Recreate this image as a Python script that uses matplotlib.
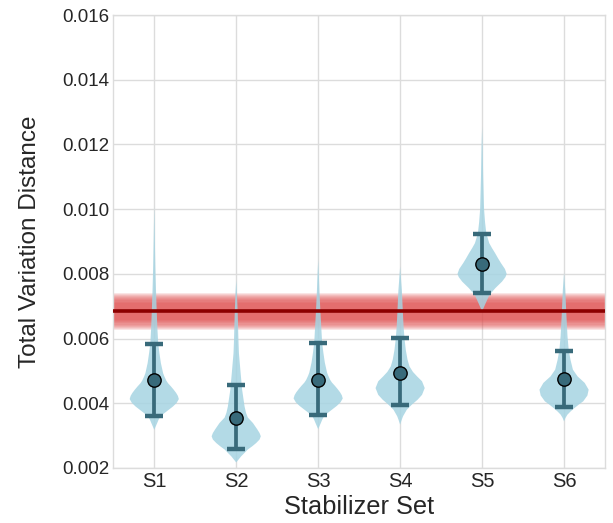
import numpy as np
import matplotlib
matplotlib.use("Agg")
import matplotlib.pyplot as plt

# =========================================================
# DATA
# =========================================================

labels = ["S1", "S2", "S3", "S4", "S5", "S6"]

means = [0.00471, 0.00356, 0.00473, 0.00495, 0.00831, 0.00475]
err_lo = [0.00361, 0.00258, 0.00363, 0.00396, 0.00742, 0.00390]
err_hi = [0.00583, 0.00456, 0.00585, 0.00602, 0.00924, 0.00561]

# reference level with its shaded spread
ref_level = 0.00684
ref_spread = 0.00058

# violin outlines: tvd value and relative half width
s1_y = [0.00318, 0.00339, 0.00349, 0.00360, 0.00370, 0.00380, 0.00390, 0.00401,
        0.00413, 0.00423, 0.00432, 0.00442, 0.00452, 0.00462, 0.00470, 0.00483,
        0.00493, 0.00524, 0.00555, 0.00586, 0.00627, 0.00684, 0.00750, 0.00820,
        0.00900, 0.00960, 0.01010]
s1_w = [0.0, 0.12, 0.175, 0.26, 0.42, 0.59, 0.76, 0.91,
        1.0, 0.96, 0.89, 0.79, 0.68, 0.56, 0.49, 0.41,
        0.36, 0.27, 0.21, 0.16, 0.13, 0.10, 0.07, 0.045,
        0.025, 0.012, 0.0]

s2_y = [0.00217, 0.00236, 0.00246, 0.00257, 0.00267, 0.00277, 0.00288, 0.00298,
        0.00308, 0.00319, 0.00329, 0.00339, 0.00356, 0.00370, 0.00390, 0.00442,
        0.00493, 0.00555, 0.00596, 0.00680, 0.00740, 0.00780]
s2_w = [0.0, 0.20, 0.33, 0.47, 0.65, 0.81, 0.95, 1.0,
        0.95, 0.86, 0.77, 0.68, 0.47, 0.40, 0.34, 0.24,
        0.18, 0.11, 0.09, 0.06, 0.03, 0.0]

s3_y = [0.00320, 0.00341, 0.00351, 0.00362, 0.00372, 0.00382, 0.00392, 0.00403,
        0.00415, 0.00425, 0.00434, 0.00444, 0.00454, 0.00464, 0.00472, 0.00485,
        0.00495, 0.00526, 0.00557, 0.00588, 0.00629, 0.00684, 0.00750, 0.00800,
        0.00843]
s3_w = [0.0, 0.12, 0.175, 0.26, 0.42, 0.59, 0.76, 0.91,
        1.0, 0.96, 0.89, 0.79, 0.68, 0.56, 0.49, 0.41,
        0.36, 0.27, 0.21, 0.16, 0.13, 0.09, 0.05, 0.025,
        0.0]

s4_y = [0.00334, 0.00350, 0.00360, 0.00380, 0.00396, 0.00411, 0.00426, 0.00447,
        0.00468, 0.00483, 0.00497, 0.00514, 0.00535, 0.00565, 0.00598, 0.00637,
        0.00684, 0.00750, 0.00780, 0.00823]
s4_w = [0.0, 0.07, 0.12, 0.27, 0.48, 0.71, 0.89, 1.0,
        0.89, 0.69, 0.52, 0.38, 0.30, 0.23, 0.18, 0.14,
        0.11, 0.07, 0.04, 0.0]

s5_y = [0.00684, 0.00710, 0.00735, 0.00756, 0.00776, 0.00790, 0.00800, 0.00815,
        0.00833, 0.00848, 0.00864, 0.00880, 0.00895, 0.00926, 0.00960, 0.01000,
        0.01100, 0.01200, 0.01255]
s5_w = [0.0, 0.15, 0.30, 0.54, 0.81, 0.95, 1.0, 0.93,
        0.77, 0.65, 0.53, 0.40, 0.29, 0.17, 0.12, 0.08,
        0.045, 0.02, 0.0]

s6_y = [0.00344, 0.00355, 0.00365, 0.00375, 0.00385, 0.00396, 0.00406, 0.00424,
        0.00442, 0.00463, 0.00483, 0.00504, 0.00535, 0.00565, 0.00607, 0.00680,
        0.00750, 0.00803]
s6_w = [0.0, 0.06, 0.14, 0.27, 0.42, 0.60, 0.78, 0.95,
        1.0, 0.84, 0.55, 0.36, 0.26, 0.19, 0.14, 0.09,
        0.05, 0.0]

violin_y = [s1_y, s2_y, s3_y, s4_y, s5_y, s6_y]
violin_w = [s1_w, s2_w, s3_w, s4_w, s5_w, s6_w]

# =========================================================
# STYLE
# =========================================================

plt.style.use("seaborn-v0_8-whitegrid")
plt.rcParams["font.family"] = ["Liberation Sans", "DejaVu Sans"]
plt.rcParams["text.color"] = "#262626"
plt.rcParams["axes.labelcolor"] = "#262626"
plt.rcParams["xtick.color"] = "#262626"
plt.rcParams["ytick.color"] = "#262626"

violin_color = "#a6d4e2"
point_color = "#386a7a"

# =========================================================
# PLOT
# =========================================================

fig = plt.figure(figsize=(6.13, 5.23), dpi=100)
ax = fig.add_axes([0.1848, 0.1052, 0.8022, 0.8661])

x = np.arange(len(labels))

# shaded reference band: solid-ish core that fades out to the edges
n_layers = 10
for k in range(n_layers):
    half = ref_spread * (0.40 + 0.60 * (k + 1) / n_layers)
    ax.axhspan(ref_level - half, ref_level + half, color="#e04a4a",
               alpha=0.14, lw=0, zorder=1)

# violins from the read outlines
stats = []
for i in range(len(labels)):
    yy = np.array(violin_y[i])
    stats.append({
        "coords": yy,
        "vals": np.array(violin_w[i]),
        "mean": means[i],
        "median": means[i],
        "min": yy.min(),
        "max": yy.max(),
        "quantiles": [],
    })
parts = ax.violin(stats, positions=x, widths=0.6, showmeans=False,
                  showextrema=False, showmedians=False)
for body in parts["bodies"]:
    body.set_facecolor(violin_color)
    body.set_edgecolor("none")
    body.set_alpha(0.85)
    body.set_zorder(2)

ax.axhline(ref_level, color="#8b0000", lw=2.6, zorder=3)

# error bars with thick caps drawn as short horizontal segments
ax.vlines(x, err_lo, err_hi, color=point_color, lw=2.7, zorder=4)
cap = 0.11
ax.hlines(err_lo, x - cap, x + cap, color=point_color, lw=3.2, zorder=4)
ax.hlines(err_hi, x - cap, x + cap, color=point_color, lw=3.2, zorder=4)
ax.plot(x, means, "o", color=point_color, markersize=9.6,
        markeredgecolor="black", markeredgewidth=1.0, zorder=5)

ax.set_xlim(-0.5, len(labels) - 0.5)
ax.set_ylim(0.002, 0.016)
ax.set_yticks(np.arange(0.002, 0.0161, 0.002))
ax.set_yticklabels([f"{v:.3f}" for v in np.arange(0.002, 0.0161, 0.002)])
ax.set_xticks(x)
ax.set_xticklabels(labels)
ax.tick_params(axis="y", labelsize=13.5, pad=3)
ax.tick_params(axis="x", labelsize=14.5, pad=3)

ax.set_xlabel("Stabilizer Set", fontsize=18.3, labelpad=3)
ax.set_ylabel("Total Variation Distance", fontsize=17.5, labelpad=15)

ax.grid(True, color="#dcdcdc", lw=1.0)
for sp in ax.spines.values():
    sp.set_color("#dcdcdc")
    sp.set_linewidth(1.0)

fig.savefig("out.png", dpi=100)
